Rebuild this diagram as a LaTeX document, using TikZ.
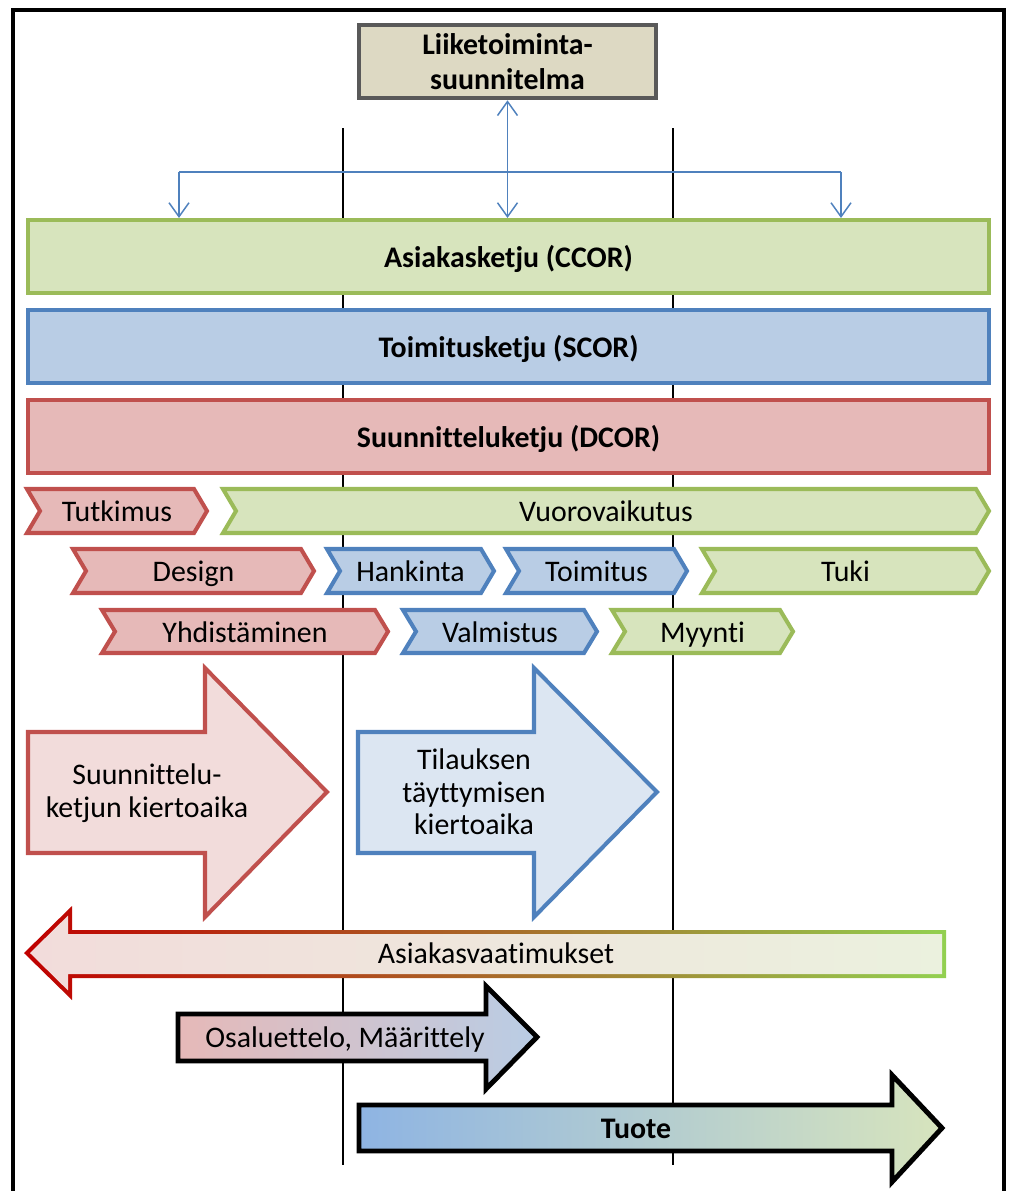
\documentclass[tikz,border=0pt]{standalone}
\usepackage{fontspec}
\setmainfont{Carlito}[Ligatures={NoCommon}]
\usetikzlibrary{arrows.meta}

\definecolor{tanfill}{HTML}{DDD9C3}
\definecolor{tanline}{HTML}{595959}
\definecolor{grfill}{HTML}{D7E4BD}
\definecolor{grline}{HTML}{9BBB59}
\definecolor{blfill}{HTML}{B9CDE5}
\definecolor{blline}{HTML}{4F81BD}
\definecolor{rdfill}{HTML}{E6B9B8}
\definecolor{rdline}{HTML}{C0504D}
\definecolor{rdlight}{HTML}{F2DCDB}
\definecolor{bllight}{HTML}{DCE6F2}
\definecolor{grlight}{HTML}{EBF1DE}
\definecolor{darkred}{HTML}{C00000}
\definecolor{limegr}{HTML}{92D050}
\definecolor{prodblue}{HTML}{8EB4E3}

% chevron step: name, left x, right x, top y, bottom y, style, label
\newcommand\chevbox[7]{%
  \draw[#6] (#2,#4) -- ({#3-13},#4) -- (#3,{(#4+#5)/2}) -- ({#3-13},#5)
    -- (#2,#5) -- ({#2+13},{(#4+#5)/2}) -- cycle;
  \node[slbl] (#1) at ({(#2+#3)/2},{(#4+#5)/2}) {#7};
}

\begin{document}
\begin{tikzpicture}[x=0.02cm, y=-0.02cm,
  lbl/.style={inner sep=0pt, font=\fontsize{17}{19.5}\selectfont, align=center},
  slbl/.style={inner sep=0pt, font=\fontsize{17}{19.5}\selectfont,
    text height=12pt, text depth=0pt},
  bslbl/.style={slbl, font=\bfseries\fontsize{17}{19.5}\selectfont},
  chainbox/.style={draw, line width=2.3pt, minimum width=19.22cm,
    minimum height=1.46cm, inner sep=0pt, text height=12pt, text depth=0pt,
    font=\bfseries\fontsize{17}{19.5}\selectfont},
  vline/.style={black, line width=0.6pt},
  link/.style={blline, line width=0.85pt},
  barb/.tip={Straight Barb[length=0.28cm, width=0.4cm]},
  redstep/.style={draw=rdline, fill=rdfill, line width=2.3pt, line join=miter},
  bluestep/.style={draw=blline, fill=blfill, line width=2.3pt, line join=miter},
  greenstep/.style={draw=grline, fill=grfill, line width=2.3pt, line join=miter},
  bigarrow/.style={line width=2.3pt, line join=miter},
  flowarrow/.style={draw=black, line width=2.8pt, line join=miter}]

\useasboundingbox (0,0) rectangle (1010,1191);

% outer frame (open at the bottom)
\draw[black, line width=2.3pt] (13,1195) -- (13,10) -- (1004,10) -- (1004,1195);

% vertical phase separators
\coordinate (s1t) at (343,128); \coordinate (s1b) at (343,1165);
\coordinate (s2t) at (673,128); \coordinate (s2b) at (673,1165);
\draw[vline] (s1t) -- (s1b);
\draw[vline] (s2t) -- (s2b);

% business plan
\node[draw=tanline, fill=tanfill, line width=2.6pt, minimum width=5.94cm,
  minimum height=1.46cm, inner sep=0pt, align=center,
  font=\bfseries\fontsize{17}{20}\selectfont] (biz) at (507.5,61.5)
  {Liiketoiminta-\\suunnitelma};

% the three chains
\node[chainbox, draw=grline, fill=grfill] (ccor) at (508.5,256.5) {Asiakasketju (CCOR)};
\node[chainbox, draw=blline, fill=blfill] (scor) at (508.5,346.5) {Toimitusketju (SCOR)};
\node[chainbox, draw=rdline, fill=rdfill] (dcor) at (508.5,436.5) {Suunnitteluketju (DCOR)};

% links from the plan to the customer chain
\coordinate (hl) at (179,172);
\coordinate (hm) at (507.5,172);
\coordinate (hr) at (841,172);
\draw[link] (hl) -- (hr);
\draw[link, barb-barb] (biz.south) -- (biz.south |- ccor.north);
\draw[link, -barb] (hl) -- (hl |- ccor.north);
\draw[link, -barb] (hr) -- (hr |- ccor.north);

% process steps
\chevbox{tut}{27}{207}{489}{533}{redstep}{Tutkimus}
\chevbox{vuo}{223}{989}{489}{533}{greenstep}{Vuorovaikutus}
\chevbox{des}{73}{314}{549}{593}{redstep}{Design}
\chevbox{han}{327}{494}{549}{593}{bluestep}{Hankinta}
\chevbox{toi}{506}{687}{549}{593}{bluestep}{Toimitus}
\chevbox{tuk}{702}{989}{549}{593}{greenstep}{Tuki}
\chevbox{yhd}{102}{388}{610}{653}{redstep}{Yhdistäminen}
\chevbox{val}{403}{597}{610}{653}{bluestep}{Valmistus}
\chevbox{myy}{612}{793}{610}{653}{greenstep}{Myynti}

% cycle time arrows
\draw[bigarrow, draw=rdline, fill=rdlight]
  (28,732) -- (205,732) -- (205,668) -- (327,792) -- (205,917) -- (205,853) -- (28,853) -- cycle;
\node[lbl] (dct) at (147,793) {Suunnittelu-\\[-1pt]ketjun kiertoaika};
\draw[bigarrow, draw=blline, fill=bllight]
  (358,732) -- (534,732) -- (534,668) -- (657,792) -- (534,917) -- (534,853) -- (358,853) -- cycle;
\node[lbl] (oct) at (474,792) {Tilauksen\\[-1pt]täyttymisen\\[-1pt]kiertoaika};

% customer requirements (gradient outline)
\shade[left color=darkred, right color=limegr]
  (24,953) -- (72,906) -- (72,930) -- (946,930) -- (946,978) -- (72,978) -- (72,1000) -- cycle;
\shade[left color=rdlight, right color=grlight]
  (30,953) -- (68,915.6) -- (68,934) -- (942,934) -- (942,974) -- (68,974) -- (68,990.4) -- cycle;
\node[slbl] (req) at (496,953) {Asiakasvaatimukset};

% bill of materials / specification
\shadedraw[flowarrow, left color=rdfill, right color=blfill]
  (178,1014) -- (486,1014) -- (486,986) -- (537,1037) -- (486,1089) -- (486,1061) -- (178,1061) -- cycle;
\node[slbl] (bom) at (345,1037) {Osaluettelo, Määrittely};

% product
\shadedraw[flowarrow, left color=prodblue, right color=grfill]
  (359,1105) -- (892,1105) -- (892,1075) -- (942,1128) -- (892,1182) -- (892,1151) -- (359,1151) -- cycle;
\node[bslbl] (prod) at (636,1128) {Tuote};

\end{tikzpicture}
\end{document}
